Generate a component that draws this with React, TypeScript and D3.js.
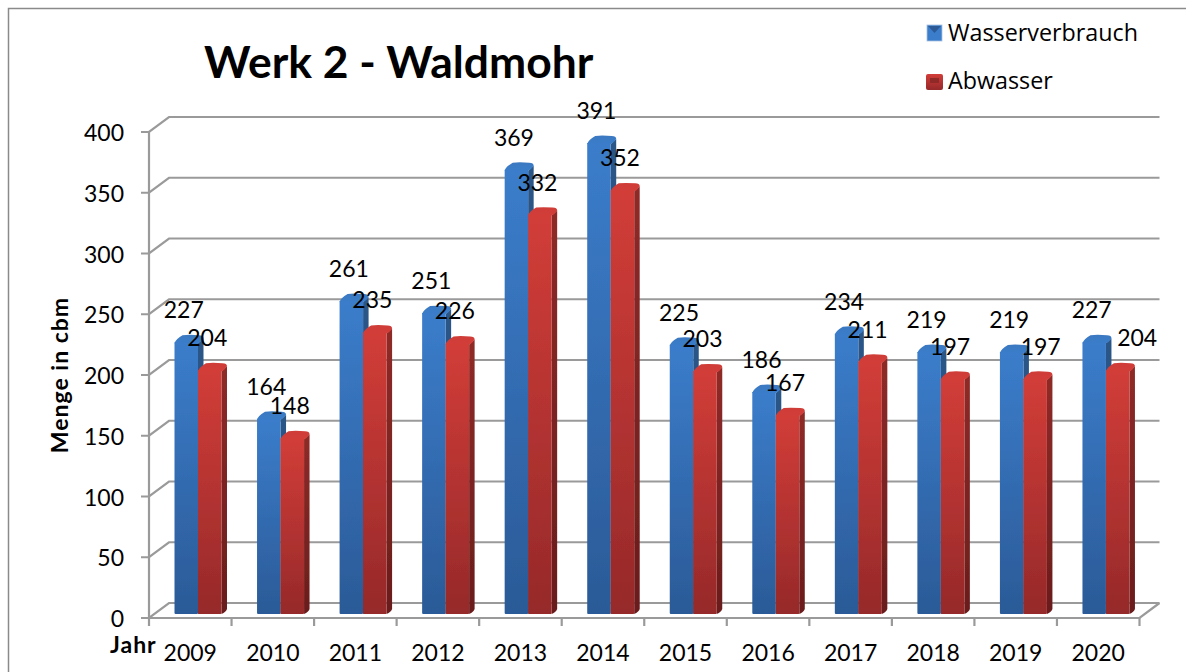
import React from 'react'
import * as d3 from 'd3'

const years = ['2009', '2010', '2011', '2012', '2013', '2014', '2015', '2016', '2017', '2018', '2019', '2020']
const wasserverbrauch = [227, 164, 261, 251, 369, 391, 225, 186, 234, 219, 219, 227]
const abwasser = [204, 148, 235, 226, 332, 352, 203, 167, 211, 197, 197, 204]
const yTicks = [0, 50, 100, 150, 200, 250, 300, 350, 400]

const width = 1186
const height = 672
const font = 'Lato, Carlito, sans-serif'
const gridColor = '#9a9a9a'

// front edge of the 3d box, the back wall sits up and to the right of it
const depthX = 20
const depthY = 15
const baseY = 614

const x = d3.scaleBand<string>().domain(years).range([149, 1139.5])
const y = d3.scaleLinear().domain([0, 400]).range([618, 132])

const barW = 23.5
const sideW = 5.5
const capH = 7
const barOffset = 25.5

const frontPath = (x0: number, top: number) =>
  `M${x0},${top}L${x0 + barW},${top}L${x0 + barW},${baseY - 1}Q${x0 + barW},${baseY} ${x0 + barW - 1},${baseY}L${x0 + 1},${baseY}Q${x0},${baseY} ${x0},${baseY - 1}Z`
const capPath = (x0: number, top: number) =>
  `M${x0},${top + 1}Q${x0 + 1},${top - 3} ${x0 + 8},${top - capH}Q${x0 + 14},${top - capH - 0.8} ${x0 + barW + 1},${top - capH}Q${x0 + barW + sideW},${top - capH} ${x0 + barW + sideW},${top - capH + 3}Q${x0 + barW + 3},${top} ${x0 + barW},${top + 1}Q${x0 + 11},${top + 2} ${x0},${top + 1}Z`
const sidePath = (x0: number, top: number) =>
  `M${x0 + barW},${top + 1}L${x0 + barW + sideW},${top - capH + 3}L${x0 + barW + sideW},${baseY - 5}Q${x0 + barW + sideW - 1},${baseY - 2} ${x0 + barW},${baseY}Z`

function Bar({ x0, value, kind }: { x0: number; value: number; kind: string }) {
  const top = y(value)
  return (
    <g>
      <path d={sidePath(x0, top)} fill={`url(#${kind}-side)`} />
      <path d={frontPath(x0, top)} fill={`url(#${kind}-front)`} />
      <path d={capPath(x0, top)} fill={`url(#${kind}-cap)`} />
    </g>
  )
}

function Gradients({ kind, topColor, bottomColor, sideTop, sideBottom, capColor }: any) {
  return (
    <>
      <linearGradient id={`${kind}-front`} x1="0" y1="0" x2="0" y2="1">
        <stop offset="0" stopColor={topColor} />
        <stop offset="1" stopColor={bottomColor} />
      </linearGradient>
      <linearGradient id={`${kind}-side`} x1="0" y1="0" x2="0" y2="1">
        <stop offset="0" stopColor={sideTop} />
        <stop offset="1" stopColor={sideBottom} />
      </linearGradient>
      <linearGradient id={`${kind}-cap`} x1="0" y1="0" x2="0" y2="1">
        <stop offset="0" stopColor={capColor} />
        <stop offset="1" stopColor={topColor} />
      </linearGradient>
    </>
  )
}

export default function App() {
  const step = x.step()
  const [x0, x1] = x.range()
  return (
    <svg
      width={width}
      height={height}
      style={{ position: 'absolute', left: 0, top: 0, background: '#fff' }}
      fontFamily={font}
    >
      <defs>
        <Gradients kind="blue" topColor="#3b7dcb" bottomColor="#2b5a97" sideTop="#2a5788" sideBottom="#1f4272" capColor="#3a78c0" />
        <Gradients kind="red" topColor="#d23d38" bottomColor="#96292a" sideTop="#8f2a28" sideBottom="#6a1d1c" capColor="#cf3c37" />
        <filter id="soft" x="-5%" y="-5%" width="110%" height="110%">
          <feGaussianBlur stdDeviation="0.45" />
        </filter>
      </defs>

      {/* frame */}
      <path d={`M${width},8.5H8.5V${height}`} fill="none" stroke="#8a8a8a" strokeWidth={1.5} />

      {/* back wall and side wall grid */}
      <g fill="none" stroke={gridColor} strokeWidth={2.2}>
        {yTicks.map((t) => (
          <path
            key={t}
            d={`M${x0 - 8},${y(t)}H${x0}L${x0 + depthX},${y(t) - depthY}H${x1 + depthX}`}
          />
        ))}
        <path d={`M${x0},${y(400)}V${y(0) + 8}`} />
        <path d={`M${x0},${y(0)}H${x1}L${x1 + depthX},${y(0) - depthY}`} />
        {years.map((yr) => (
          <path key={yr} d={`M${(x(yr) as number) + step},${y(0)}v8`} />
        ))}
      </g>

      {/* bars */}
      <g filter="url(#soft)">
        {years.map((yr, i) => {
          const bx = (x(yr) as number) + barOffset
          return (
            <g key={yr}>
              <Bar x0={bx} value={wasserverbrauch[i]} kind="blue" />
              <Bar x0={bx + barW} value={abwasser[i]} kind="red" />
            </g>
          )
        })}
      </g>

      {/* value labels */}
      <g fontSize={23} textAnchor="middle" fill="#000">
        {years.map((yr, i) => {
          const bx = (x(yr) as number) + barOffset
          // last two red labels were dragged off their bars in the original
          const nudge = yr === '2020' ? 22 : yr === '2019' ? 8 : 0
          return (
            <g key={yr}>
              <text x={bx + barW / 2 - 2.5} y={y(wasserverbrauch[i]) - 24}>{wasserverbrauch[i]}</text>
              <text x={bx + barW * 1.5 - 2.5 + nudge} y={y(abwasser[i]) - 24}>{abwasser[i]}</text>
            </g>
          )
        })}
      </g>

      {/* axis labels */}
      <g fontSize={23} fill="#000">
        {yTicks.map((t) => (
          <text key={t} x={124} y={y(t) + 9} textAnchor="end">{t}</text>
        ))}
        {years.map((yr) => (
          <text key={yr} x={(x(yr) as number) + step / 2} y={661} textAnchor="middle">{yr}</text>
        ))}
      </g>
      <text
        transform="translate(68,375) rotate(-90)"
        textAnchor="middle"
        fontSize={23}
        fontWeight="bold"
        letterSpacing={1}
      >
        Menge in cbm
      </text>
      <text x={110} y={653} fontSize={23} fontWeight="bold" letterSpacing={1}>Jahr</text>

      <text x={204} y={78} fontSize={44.4} fontWeight="bold">Werk 2 - Waldmohr</text>

      {/* legend */}
      <g>
        <rect x={927} y={25} width={15} height={16} fill="#3b7dcb" stroke="#a9c2e0" strokeWidth={0.8} />
        <path d="M928,26H941L934.5,33Z" fill="#2b5a97" />
        <text x={948} y={41} fontSize={23.3} fontFamily="'Open Sans', sans-serif">Wasserverbrauch</text>
        <rect x={926} y={74} width={17} height={16} rx={2} fill="url(#red-front)" />
        <rect x={930} y={78} width={9} height={5} fill="#8f2a28" />
        <text x={948} y={89} fontSize={23.3} fontFamily="'Open Sans', sans-serif">Abwasser</text>
      </g>
    </svg>
  )
}
